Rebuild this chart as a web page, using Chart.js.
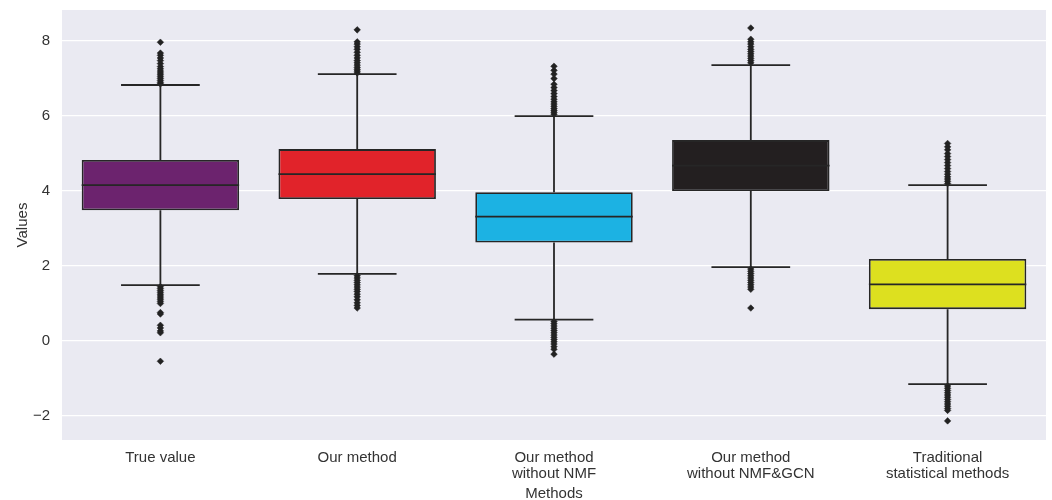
<!DOCTYPE html>
<html>
<head>
<meta charset="utf-8">
<script src="https://cdn.jsdelivr.net/npm/chart.js@4/dist/chart.umd.min.js"></script>
<style>
    html, body { margin: 0; padding: 0; background: #ffffff; }
    #wrap { width: 1052px; height: 500px; }
</style>
</head>
<body>
<div id="wrap"><canvas id="boxChart" width="1052" height="500"></canvas></div>
<script>
// ===============================
//  DATA
// ===============================
const categories = [
    "True value",
    "Our method",
    ["Our method", "without NMF"],
    ["Our method", "without NMF&GCN"],
    ["Traditional", "statistical methods"]
];
const boxColours = ["#6c236e", "#e1232a", "#1cb2e3", "#231f20", "#dde01f"];

const q1 = [3.49, 3.79, 2.63, 4.00, 0.85];
const medians = [4.16, 4.45, 3.32, 4.68, 1.51];
const q3 = [4.83, 5.12, 3.97, 5.36, 2.19];
const whiskerLow = [1.49, 1.79, 0.57, 1.97, -1.15];
const whiskerHigh = [6.83, 7.12, 6.00, 7.36, 4.16];

const outliersHigh = [
    [6.86, 6.90, 6.95, 7.00, 7.05, 7.10, 7.15, 7.20, 7.26, 7.32, 7.40, 7.48, 7.55, 7.62, 7.68, 7.97],
    [7.15, 7.20, 7.25, 7.30, 7.36, 7.42, 7.48, 7.55, 7.62, 7.70, 7.78, 7.85, 7.92, 7.98, 8.30],
    [6.05, 6.10, 6.15, 6.20, 6.26, 6.32, 6.38, 6.45, 6.52, 6.60, 6.68, 6.76, 6.85, 7.00, 7.12, 7.22, 7.33],
    [7.42, 7.48, 7.54, 7.60, 7.66, 7.72, 7.78, 7.85, 7.92, 7.98, 8.05, 8.35],
    [4.20, 4.26, 4.32, 4.38, 4.45, 4.52, 4.60, 4.68, 4.76, 4.84, 4.92, 5.00, 5.10, 5.18, 5.27]
];
const outliersLow = [
    [1.45, 1.40, 1.35, 1.30, 1.25, 1.20, 1.15, 1.10, 1.05, 1.00, 0.76, 0.72, 0.42, 0.35, 0.27, 0.22, -0.54],
    [1.74, 1.68, 1.62, 1.56, 1.50, 1.44, 1.38, 1.32, 1.25, 1.18, 1.10, 1.02, 0.95, 0.88],
    [0.52, 0.46, 0.40, 0.34, 0.28, 0.22, 0.16, 0.10, 0.04, -0.02, -0.08, -0.15, -0.22, -0.35],
    [1.92, 1.86, 1.80, 1.74, 1.68, 1.62, 1.56, 1.50, 1.44, 1.38, 0.88],
    [-1.20, -1.26, -1.32, -1.38, -1.44, -1.50, -1.56, -1.62, -1.68, -1.74, -1.80, -1.85, -2.13]
];

const yTicks = [-2, 0, 2, 4, 6, 8];
const yMin = -2.64;
const yMax = 8.83;

// ===============================
//  BUILD WHISKER / MEDIAN SEGMENTS
// ===============================
const LINE = "#262626";
const FONT = "'Liberation Sans', Arial, sans-serif";

function buildSegments() {
    const pts = [];
    const gap = i => pts.push({ x: i, y: null });
    categories.forEach((_, i) => {
        // upper whisker + cap
        pts.push({ x: i, y: q3[i] }, { x: i, y: whiskerHigh[i] }); gap(i);
        pts.push({ x: i - 0.2, y: whiskerHigh[i] }, { x: i + 0.2, y: whiskerHigh[i] }); gap(i);
        // lower whisker + cap
        pts.push({ x: i, y: q1[i] }, { x: i, y: whiskerLow[i] }); gap(i);
        pts.push({ x: i - 0.2, y: whiskerLow[i] }, { x: i + 0.2, y: whiskerLow[i] }); gap(i);
        // median
        pts.push({ x: i - 0.4, y: medians[i] }, { x: i + 0.4, y: medians[i] }); gap(i);
    });
    return pts;
}

function buildOutliers() {
    const pts = [];
    categories.forEach((_, i) => {
        outliersHigh[i].forEach(v => pts.push({ x: i, y: v }));
        outliersLow[i].forEach(v => pts.push({ x: i, y: v }));
    });
    return pts;
}

// ===============================
//  PLOT BACKGROUND
// ===============================
const plotBackground = {
    id: "plotBackground",
    beforeDraw(chart) {
        const { ctx, chartArea: a } = chart;
        ctx.save();
        ctx.fillStyle = "#eaeaf2";
        ctx.fillRect(a.left, a.top, a.right - a.left, a.bottom - a.top);
        ctx.restore();
    }
};

// ===============================
//  CHART
// ===============================
new Chart(document.getElementById("boxChart"), {
    type: "bar",
    data: {
        labels: categories,
        datasets: [
            {
                label: "boxes",
                data: categories.map((_, i) => [q1[i], q3[i]]),
                backgroundColor: boxColours,
                borderColor: LINE,
                borderWidth: 1.8,
                borderSkipped: false,
                grouped: false,
                barPercentage: 0.8,
                categoryPercentage: 1.0,
                order: 3
            },
            {
                type: "line",
                label: "whiskers",
                xAxisID: "x2",
                data: buildSegments(),
                borderColor: LINE,
                borderWidth: 1.8,
                pointRadius: 0,
                spanGaps: false,
                tension: 0,
                order: 1
            },
            {
                type: "scatter",
                label: "outliers",
                xAxisID: "x2",
                data: buildOutliers(),
                pointStyle: "rectRot",
                pointRadius: 3.3,
                backgroundColor: "#222222",
                borderColor: "#222222",
                borderWidth: 0.5,
                order: 2
            }
        ]
    },
    options: {
        responsive: false,
        animation: false,
        devicePixelRatio: 1,
        layout: { padding: { top: 10, right: 6, left: 0, bottom: 0 } },
        plugins: {
            legend: { display: false },
            tooltip: { enabled: false }
        },
        scales: {
            x: {
                type: "category",
                offset: true,
                grid: { display: false, drawTicks: false },
                border: { display: false },
                ticks: {
                    color: "#333333",
                    font: { family: FONT, size: 15, lineHeight: 1.07 },
                    padding: 10,
                    maxRotation: 0,
                    autoSkip: false
                },
                title: {
                    display: true,
                    text: "Methods",
                    color: "#333333",
                    font: { family: FONT, size: 15 },
                    padding: { top: -3, bottom: -3 }
                },
                afterFit: s => { s.height = 60; s.paddingLeft = 0; s.paddingRight = 0; }
            },
            x2: {
                type: "linear",
                display: false,
                offset: false,
                min: -0.5,
                max: 4.5
            },
            y: {
                min: yMin,
                max: yMax,
                grid: { color: "#ffffff", lineWidth: 1.3, drawTicks: false },
                border: { display: false },
                afterBuildTicks: s => { s.ticks = yTicks.map(v => ({ value: v })); },
                ticks: {
                    color: "#333333",
                    font: { family: FONT, size: 15 },
                    padding: 12,
                    callback: v => v < 0 ? "\u2212" + Math.abs(v) : String(v)
                },
                title: {
                    display: true,
                    text: "Values",
                    color: "#333333",
                    font: { family: FONT, size: 15 },
                    padding: { top: 14, bottom: 0 }
                },
                afterFit: s => { s.width = 62; s.paddingTop = 0; s.paddingBottom = 0; }
            }
        }
    },
    plugins: [plotBackground]
});
</script>
</body>
</html>
